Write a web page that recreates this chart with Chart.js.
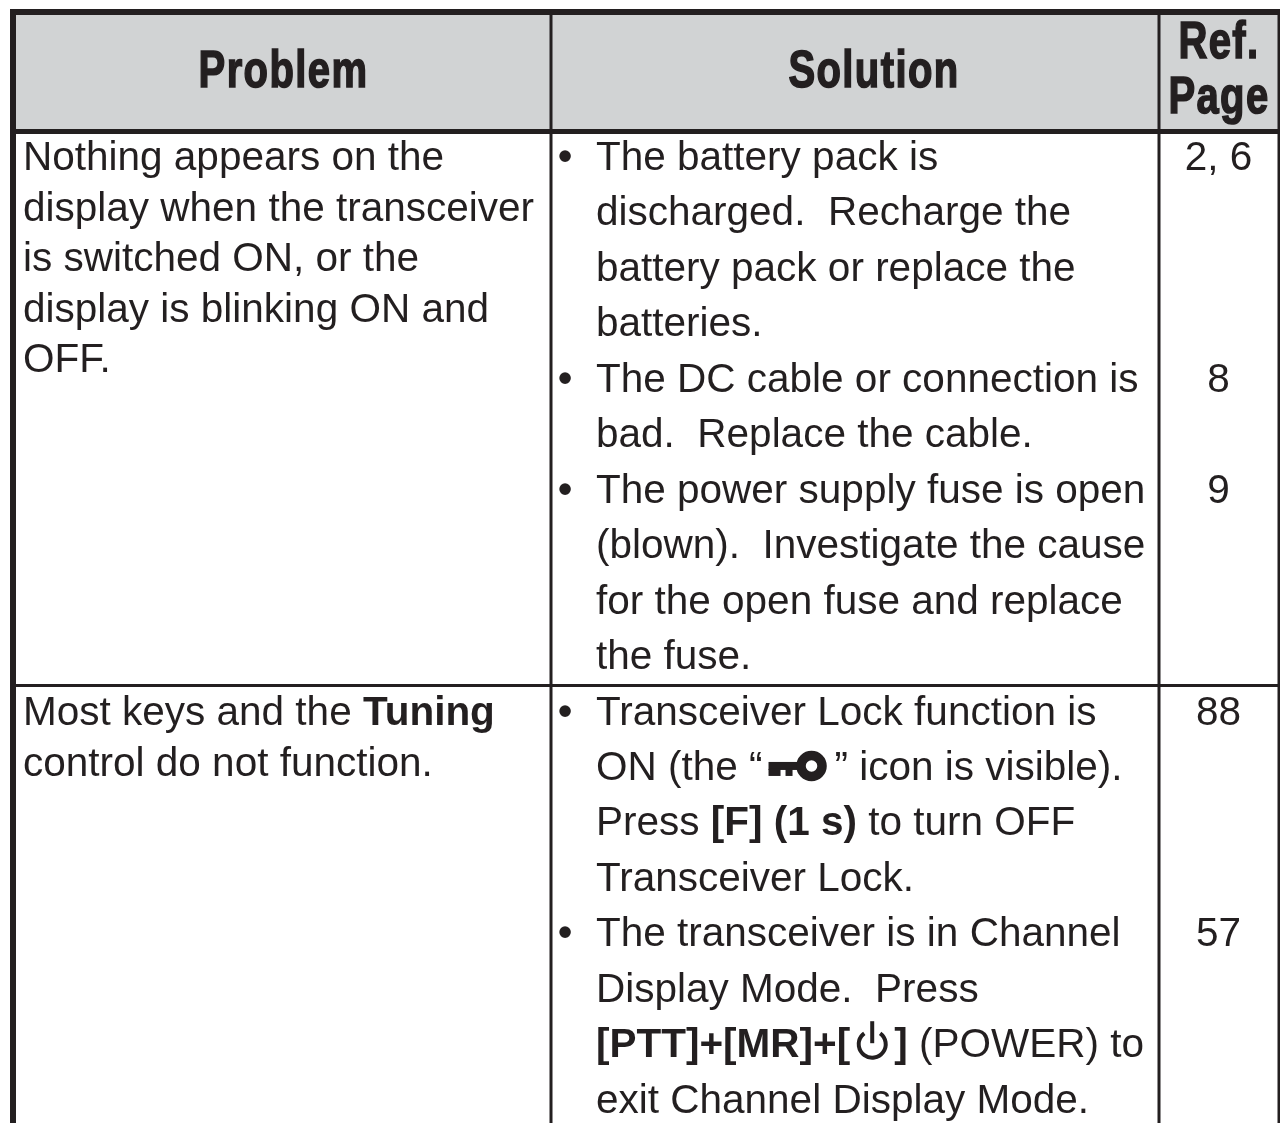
<!DOCTYPE html>
<html>
<head>
<meta charset="utf-8">
<title>Troubleshooting table</title>
<script src="https://cdn.jsdelivr.net/npm/chart.js@4"></script>
<style>
  html, body { margin: 0; padding: 0; background: #fff; }
  #wrap { width: 1280px; height: 1123px; }
</style>
</head>
<body>
<div id="wrap"><canvas id="table_chart"></canvas></div>
<script>
const headers = ['Problem', 'Solution', 'Ref.', 'Page'];

const problemsFirst = [
  'Nothing appears on the',
  'display when the transceiver',
  'is switched ON, or the',
  'display is blinking ON and',
  'OFF.'
];
const problemsSecond = [
  'Most keys and the **Tuning**',
  'control do not function.'
];

const solutionLines = [
  'The battery pack is',
  'discharged.  Recharge the',
  'battery pack or replace the',
  'batteries.',
  'The DC cable or connection is',
  'bad.  Replace the cable.',
  'The power supply fuse is open',
  '(blown).  Investigate the cause',
  'for the open fuse and replace',
  'the fuse.',
  'Transceiver Lock function is',
  'ON (the “{key}” icon is visible).',
  'Press **[F] (1 s)** to turn OFF',
  'Transceiver Lock.',
  'The transceiver is in Channel',
  'Display Mode.  Press',
  '**[PTT]+[MR]+[**{power}**]** (POWER) to',
  'exit Channel Display Mode.'
];
// line of solutionLines where each bullet starts, and its page reference
const bulletLines = [0, 4, 6, 10, 14];
const refPages = ['2, 6', '8', '9', '88', '57'];

// table layout, in page pixels
const columnEdges = [13, 551, 1159, 1279];
const rowEdges = [12, 131.5, 685.5, 1123];
const frameWidth = { outer: 6, header: 5, inner: 3 };
const problemRows = [170, 725];
const problemStep = 50.5;
const solutionTop = 170;
const solutionStep = 55.45;

const INK = '#231f20';
const BODY_FONT = '40.5px "Liberation Sans"';
const BOLD_FONT = 'bold 40.5px "Liberation Sans"';

function rule(x0, y0, x1, y1, width) {
  return {
    type: 'line',
    data: [{ x: x0, y: y0 }, { x: x1, y: y1 }],
    borderColor: INK,
    borderWidth: width,
    borderCapStyle: 'square',
    pointRadius: 0,
    clip: false,
    order: 1
  };
}

const headerBand = {
  type: 'line',
  data: [{ x: columnEdges[0], y: rowEdges[0] }, { x: columnEdges[3], y: rowEdges[0] }],
  borderWidth: 0,
  pointRadius: 0,
  backgroundColor: '#d1d3d4',
  fill: { value: rowEdges[1] },
  order: 2
};

const frame = [
  rule(columnEdges[0], rowEdges[0], columnEdges[3], rowEdges[0], frameWidth.outer),
  rule(columnEdges[0], rowEdges[1], columnEdges[3], rowEdges[1], frameWidth.header),
  rule(columnEdges[0], rowEdges[2], columnEdges[3], rowEdges[2], frameWidth.inner),
  rule(columnEdges[0], rowEdges[0], columnEdges[0], rowEdges[3], frameWidth.outer),
  rule(columnEdges[1], rowEdges[0], columnEdges[1], rowEdges[3], frameWidth.inner),
  rule(columnEdges[2], rowEdges[0], columnEdges[2], rowEdges[3], frameWidth.inner),
  rule(columnEdges[3], rowEdges[0], columnEdges[3], rowEdges[3], frameWidth.inner)
];

function drawKey(ctx, x, y) {
  ctx.fillRect(x + 6, y - 18, 32, 8);
  ctx.fillRect(x + 6, y - 11, 12, 7);
  ctx.fillRect(x + 23, y - 11, 7, 7);
  ctx.beginPath();
  ctx.lineWidth = 9.5;
  ctx.arc(x + 49, y - 14, 10.5, 0, Math.PI * 2);
  ctx.stroke();
}

function drawPower(ctx, x, y) {
  ctx.lineWidth = 4;
  ctx.beginPath();
  ctx.arc(x + 22, y - 13, 13.5, -Math.PI * 0.3, Math.PI * 1.3);
  ctx.stroke();
  ctx.beginPath();
  ctx.moveTo(x + 22, y - 36);
  ctx.lineTo(x + 22, y - 14);
  ctx.stroke();
}

// writes one line, **..** is bold and {..} is an icon
function writeLine(ctx, line, x, y) {
  let cursor = x;
  line.split(/(\*\*.*?\*\*|\{\w+\})/).filter(Boolean).forEach(part => {
    if (part === '{key}') {
      drawKey(ctx, cursor, y);
      cursor += 72;
    } else if (part === '{power}') {
      drawPower(ctx, cursor, y);
      cursor += 44;
    } else {
      const bold = part.startsWith('**');
      const text = bold ? part.slice(2, -2) : part;
      ctx.font = bold ? BOLD_FONT : BODY_FONT;
      ctx.fillText(text, cursor, y);
      cursor += ctx.measureText(text).width;
    }
  });
}

// condensed heavy face of the header, squeezed from the bold sans
function writeHeader(ctx, text, x, y) {
  ctx.save();
  ctx.translate(x, y);
  ctx.scale(0.77, 1);
  ctx.font = 'bold 52px "Liberation Sans"';
  ctx.letterSpacing = '1.8px';
  ctx.textAlign = 'center';
  ctx.lineWidth = 1.6;
  ctx.fillText(text, 0, 0);
  ctx.strokeText(text, 0, 0);
  ctx.restore();
}

const tableText = {
  id: 'tableText',
  afterDatasetsDraw(chart) {
    const { ctx, scales: { x, y } } = chart;
    ctx.save();
    ctx.fillStyle = INK;
    ctx.strokeStyle = INK;
    ctx.textBaseline = 'alphabetic';

    writeHeader(ctx, headers[0], x.getPixelForValue(283.5), y.getPixelForValue(87));
    writeHeader(ctx, headers[1], x.getPixelForValue(874), y.getPixelForValue(87));
    writeHeader(ctx, headers[2], x.getPixelForValue(1219), y.getPixelForValue(58));
    writeHeader(ctx, headers[3], x.getPixelForValue(1219), y.getPixelForValue(113));

    ctx.textAlign = 'left';
    problemsFirst.forEach((line, i) => {
      writeLine(ctx, line, x.getPixelForValue(23), y.getPixelForValue(problemRows[0] + i * problemStep));
    });
    problemsSecond.forEach((line, i) => {
      writeLine(ctx, line, x.getPixelForValue(23), y.getPixelForValue(problemRows[1] + i * problemStep));
    });

    solutionLines.forEach((line, i) => {
      writeLine(ctx, line, x.getPixelForValue(596), y.getPixelForValue(solutionTop + i * solutionStep));
    });

    bulletLines.forEach((start, i) => {
      const rowY = y.getPixelForValue(solutionTop + start * solutionStep);
      ctx.font = BOLD_FONT;
      ctx.textAlign = 'left';
      ctx.fillText('•', x.getPixelForValue(558), rowY);
      ctx.font = BODY_FONT;
      ctx.textAlign = 'center';
      ctx.fillText(refPages[i], x.getPixelForValue(1218.5), rowY);
    });
    ctx.restore();
  }
};

const config = {
  type: 'line',
  data: { datasets: [headerBand, ...frame] },
  options: {
    responsive: true,
    maintainAspectRatio: false,
    animation: false,
    layout: { padding: 0 },
    plugins: { legend: { display: false }, tooltip: { enabled: false } },
    scales: {
      x: { type: 'linear', display: false, min: 0, max: 1280 },
      y: { type: 'linear', display: false, min: 0, max: 1123, reverse: true }
    }
  },
  plugins: [tableText]
};

document.addEventListener('DOMContentLoaded', () => {
  new Chart(document.getElementById('table_chart').getContext('2d'), config);
});
</script>
</body>
</html>
